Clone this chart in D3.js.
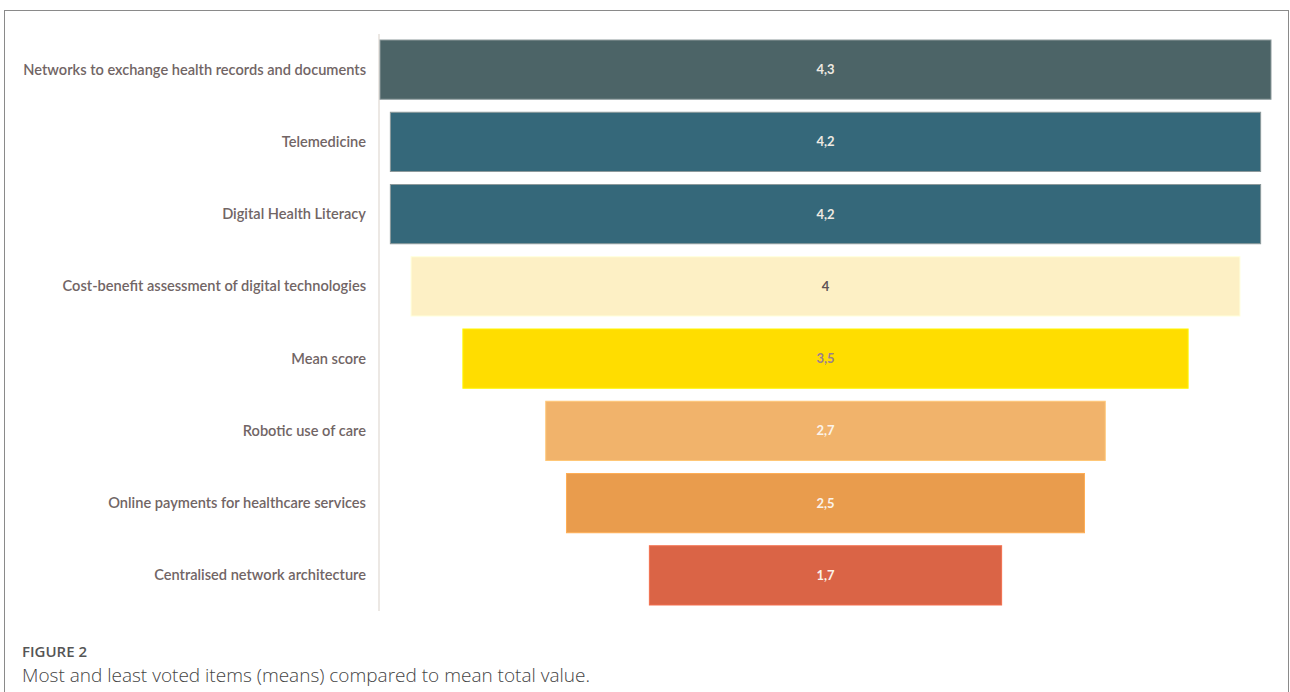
<!DOCTYPE html>
<html>
<head>
<meta charset="utf-8">
<script src="https://cdn.jsdelivr.net/npm/d3@7"></script>
<style>
  body { margin: 0; background: #fff; }
</style>
</head>
<body>
<div id="wrapper"></div>
<script>
// data
const categories = [
  "Networks to exchange health records and documents",
  "Telemedicine",
  "Digital Health Literacy",
  "Cost-benefit assessment of digital technologies",
  "Mean score",
  "Robotic use of care",
  "Online payments for healthcare services",
  "Centralised network architecture"
]
const values = [4.3, 4.2, 4.2, 4, 3.5, 2.7, 2.5, 1.7]
const barColors = ["#4c6467", "#35687a", "#35687a", "#fdf0c5", "#ffdd00", "#f1b36b", "#e99c4d", "#da6446"]
const valueColors = ["#eeeae2", "#eeeae2", "#eeeae2", "#5e5456", "#9b7f8e", "#fbf3ea", "#fbf3ea", "#fbf3ea"]
const figureLabel = "FIGURE 2"
const caption = "Most and least voted items (means) compared to mean total value."

const data = categories.map((c, i) => ({
  category: c, value: values[i], color: barColors[i], textColor: valueColors[i]
}))

function draw() {
  const dimensions = { width: 1290, height: 692 }
  const center = 825.5
  const maxWidth = 891

  const svg = d3.select("#wrapper")
    .append("svg")
    .attr("width", dimensions.width)
    .attr("height", dimensions.height)

  // frame
  svg.append("rect")
    .attr("x", 4.5).attr("y", 10.5)
    .attr("width", 1284).attr("height", 700)
    .attr("fill", "none")
    .attr("stroke", "#8a8a8a")
    .attr("stroke-width", 1)

  // scales
  const yScale = d3.scaleBand()
    .domain(categories)
    .range([33.5, 611.5])
    .paddingInner(0.18)
    .paddingOuter(0.09)

  const widthScale = d3.scaleLinear()
    .domain([0, d3.max(values)])
    .range([0, maxWidth])

  // axis line
  svg.append("line")
    .attr("x1", 379).attr("x2", 379)
    .attr("y1", 34).attr("y2", 611)
    .attr("stroke", "#e6e0db")
    .attr("stroke-width", 1.5)

  // bars
  svg.selectAll("rect.bar")
    .data(data)
    .join("rect")
    .attr("class", "bar")
    .attr("x", d => center - widthScale(d.value) / 2)
    .attr("y", d => yScale(d.category))
    .attr("width", d => widthScale(d.value))
    .attr("height", yScale.bandwidth())
    .attr("fill", d => d.color)
    .attr("stroke", (d, i) => i < 3 ? "#8d9a9c" : d3.color(d.color).brighter(0.3))
    .attr("stroke-width", 1)

  // values
  svg.selectAll("text.value")
    .data(data)
    .join("text")
    .attr("class", "value")
    .attr("x", center)
    .attr("y", d => yScale(d.category) + yScale.bandwidth() / 2)
    .attr("dy", "0.35em")
    .attr("text-anchor", "middle")
    .attr("font-family", "Lato, sans-serif")
    .attr("font-size", 13)
    .attr("font-weight", 700)
    .attr("fill", d => d.textColor)
    .text(d => String(d.value).replace(".", ","))

  // category labels
  svg.selectAll("text.label")
    .data(data)
    .join("text")
    .attr("class", "label")
    .attr("x", 366)
    .attr("y", d => yScale(d.category) + yScale.bandwidth() / 2)
    .attr("dy", "0.35em")
    .attr("text-anchor", "end")
    .attr("font-family", "Lato, sans-serif")
    .attr("font-size", 14.6)
    .attr("font-weight", 600)
    .attr("fill", "#716565")
    .text(d => d.category)

  // caption
  svg.append("text")
    .attr("x", 22).attr("y", 657)
    .attr("font-family", "'Open Sans', sans-serif")
    .attr("font-size", 15)
    .attr("font-weight", 600)
    .attr("fill", "#555")
    .text(figureLabel)

  svg.append("text")
    .attr("x", 22).attr("y", 682)
    .attr("font-family", "'Open Sans', sans-serif")
    .attr("font-size", 19)
    .attr("font-weight", 300)
    .attr("fill", "#444")
    .text(caption)
}

draw()
</script>
</body>
</html>
